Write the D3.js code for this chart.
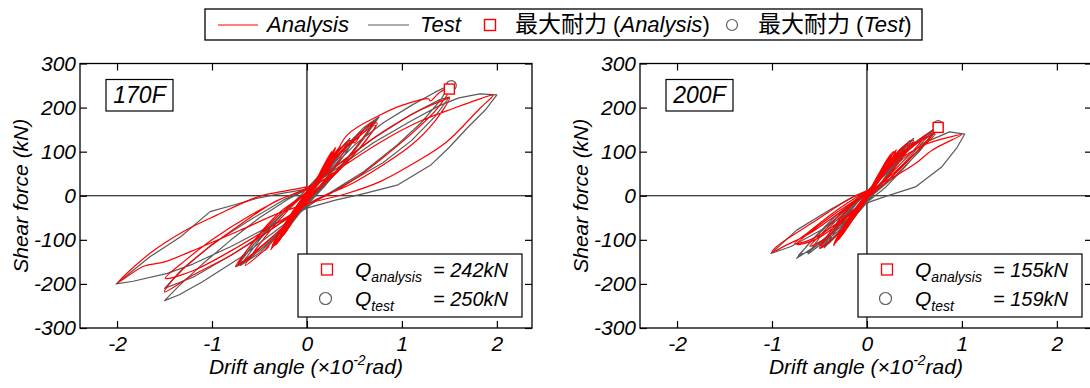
<!DOCTYPE html>
<html>
<head>
<meta charset="utf-8">
<script src="https://cdn.jsdelivr.net/npm/d3@7"></script>
<style>
  body { margin: 0; background: #fff; }
  svg text { font-family: "Liberation Sans", Arial, sans-serif; }
</style>
</head>
<body>
<svg id="chart" width="1090" height="388"></svg>
<script>
const xTicks = [-2, -1, 0, 1, 2]
const yTicks = [-300, -200, -100, 0, 100, 200, 300]
const panelNames = ['170F', '200F']

// drift angle (x10^-2 rad), shear force (kN)
const test170F = [
  [0, 0], [0.05, 20], [0.1, 38], [0.05, 15], [-0.02, -8], [-0.08, -30], [-0.1, -38], [-0.05, -18], [0, -2],
  [0.1, 35], [0.2, 62], [0.25, 75], [0.18, 50], [0.08, 15], [0, -5], [-0.1, -35], [-0.2, -62], [-0.25, -75], [-0.18, -50], [-0.08, -20], [0, 5],
  [0.12, 40], [0.25, 72], [0.15, 38], [0.05, 5], [-0.1, -32], [-0.25, -72], [-0.15, -38], [-0.05, -5],
  [0.05, 12], [0.2, 60], [0.35, 100], [0.45, 122], [0.505, 134], [0.4, 95], [0.28, 58], [0.15, 20], [0.05, -8], [-0.1, -45], [-0.25, -90], [-0.37, -119], [-0.3, -88], [-0.18, -50], [-0.05, -10], [0.05, 15],
  [0.2, 65], [0.4, 110], [0.5, 128], [0.38, 88], [0.2, 38], [0.05, -5], [-0.15, -60], [-0.3, -100], [-0.36, -112], [-0.25, -72], [-0.1, -25], [0.02, 10],
  [0.25, 80], [0.45, 130], [0.35, 95], [0.15, 35], [-0.1, -40], [-0.33, -110], [-0.22, -65], [-0.05, -5], [0.05, 20],
  [0.2, 55], [0.4, 110], [0.6, 155], [0.76, 179], [0.6, 130], [0.4, 75], [0.2, 25], [0.05, -10], [-0.2, -65], [-0.45, -115], [-0.65, -150], [-0.75, -161], [-0.6, -120], [-0.4, -70], [-0.2, -28], [0, 8],
  [0.25, 65], [0.5, 125], [0.72, 168], [0.55, 118], [0.3, 52], [0.1, 5], [-0.2, -62], [-0.5, -125], [-0.72, -155], [-0.55, -108], [-0.3, -50], [-0.05, 5],
  [0.3, 85], [0.55, 140], [0.74, 175], [0.6, 130], [0.35, 65], [0.1, 10], [-0.25, -75], [-0.5, -130], [-0.7, -158], [-0.5, -100], [-0.25, -40], [0, 8],
  [0.2, 50], [0.5, 115], [0.8, 165], [1.1, 205], [1.35, 235], [1.505, 251], [1.4, 215], [1.2, 165], [0.95, 115], [0.6, 55], [0.3, 15], [0.05, -18], [-0.3, -75], [-0.7, -140], [-1.1, -195], [-1.35, -225], [-1.5, -238], [-1.35, -205], [-1.1, -155], [-0.8, -100], [-0.5, -50], [-0.2, -8], [0.05, 20],
  [0.3, 65], [0.7, 130], [1.1, 185], [1.4, 218], [1.5, 224], [1.35, 180], [1.1, 125], [0.8, 75], [0.4, 25], [0.1, -10], [-0.3, -65], [-0.8, -135], [-1.2, -185], [-1.5, -210], [-1.3, -165], [-1.0, -110], [-0.6, -55], [-0.25, -10], [0.05, 22],
  [0.3, 60], [0.7, 120], [1.1, 170], [1.4, 205], [1.6, 222], [1.82, 231], [2.0, 229], [1.88, 195], [1.68, 152], [1.5, 110], [1.3, 69], [0.95, 24], [0.6, 5], [0.3, -10], [0, -28],
  [-0.4, -70], [-0.8, -115], [-1.2, -155], [-1.47, -176], [-1.83, -194], [-2.01, -200], [-1.65, -138], [-1.33, -93], [-1.02, -36], [-0.77, -21], [-0.53, -6], [-0.28, 5], [0, 15]
]
const analysis170F = [
  [0, 0], [0.08, 30], [0.15, 52], [0.1, 30], [0, 2], [-0.08, -28], [-0.15, -50], [-0.1, -28], [0, 0],
  [0.12, 45], [0.22, 80], [0.27, 95], [0.2, 62], [0.08, 20], [-0.05, -18], [-0.15, -52], [-0.28, -95], [-0.2, -60], [-0.08, -20], [0.02, 8],
  [0.15, 55], [0.3, 108], [0.22, 70], [0.1, 28], [-0.1, -38], [-0.3, -105], [-0.22, -70], [-0.1, -30], [0.02, 10],
  [0.15, 50], [0.3, 95], [0.42, 118], [0.35, 85], [0.2, 40], [0.05, 0], [-0.15, -55], [-0.3, -100], [-0.37, -118], [-0.3, -85], [-0.15, -40], [0, 5],
  [0.2, 68], [0.35, 112], [0.28, 80], [0.12, 30], [-0.1, -35], [-0.27, -95], [-0.33, -112], [-0.22, -65], [-0.05, -12], [0.05, 18],
  [0.18, 70], [0.26, 100], [0.24, 88], [0.3, 110], [0.22, 75], [0.1, 30], [-0.08, -30], [-0.25, -90], [-0.3, -95], [-0.38, -122], [-0.28, -80], [-0.1, -20], [0.05, 22],
  [0.25, 75], [0.5, 130], [0.65, 158], [0.74, 165], [0.62, 125], [0.4, 72], [0.2, 30], [0, -10], [-0.25, -70], [-0.5, -120], [-0.68, -152], [-0.75, -160], [-0.6, -115], [-0.35, -55], [-0.1, -8], [0.05, 20],
  [0.3, 85], [0.55, 135], [0.72, 160], [0.58, 115], [0.35, 60], [0.1, 10], [-0.2, -60], [-0.5, -118], [-0.72, -155], [-0.55, -100], [-0.3, -40], [0, 10],
  [0.25, 80], [0.45, 125], [0.5, 120], [0.6, 150], [0.7, 168], [0.55, 120], [0.3, 55], [0.05, 5], [-0.25, -75], [-0.45, -125], [-0.4, -115], [-0.65, -158], [-0.5, -110], [-0.25, -45], [0, 10],
  [0.2, 50], [0.42, 137], [0.77, 183], [1.0, 205], [1.28, 220], [1.3, 215], [1.4, 235], [1.5, 242], [1.38, 200], [1.15, 150], [0.85, 95], [0.55, 45], [0.25, 5], [0, -20], [-0.4, -80], [-0.8, -135], [-1.2, -180], [-1.5, -218], [-1.35, -175], [-1.05, -120], [-0.7, -65], [-0.35, -15], [0, 18],
  [0.35, 75], [0.8, 145], [1.2, 195], [1.45, 218], [1.5, 222], [1.35, 170], [1.1, 115], [0.8, 70], [0.45, 25], [0.1, -8], [-0.3, -60], [-0.8, -125], [-1.2, -170], [-1.49, -187], [-1.3, -150], [-1.0, -100], [-0.6, -45], [-0.25, -5], [0.05, 20],
  [0.4, 70], [0.8, 125], [1.2, 170], [1.54, 198], [1.8, 218], [1.96, 228], [1.82, 198], [1.47, 122], [1.12, 73], [0.77, 32], [0.42, 5], [0.07, -14],
  [-0.3, -40], [-0.7, -78], [-1.1, -115], [-1.5, -150], [-1.72, -160], [-1.99, -197], [-1.65, -130], [-1.3, -81], [-0.95, -44], [-0.51, -2], [-0.2, 12], [0.05, 22]
]
const test200F = [
  [0, 0], [0.05, 20], [0.1, 35], [0.05, 12], [-0.03, -10], [-0.1, -35], [-0.05, -12], [0, 0],
  [0.1, 40], [0.25, 85], [0.18, 55], [0.05, 10], [-0.1, -40], [-0.25, -85], [-0.18, -55], [-0.05, -10], [0.02, 8],
  [0.15, 50], [0.35, 105], [0.49, 130], [0.38, 95], [0.2, 40], [0.05, -3], [-0.2, -65], [-0.4, -108], [-0.49, -119], [-0.38, -85], [-0.2, -35], [0, 5],
  [0.2, 60], [0.4, 110], [0.5, 122], [0.35, 80], [0.15, 25], [-0.05, -15], [-0.25, -75], [-0.45, -112], [-0.35, -80], [-0.15, -25], [0.02, 10],
  [0.2, 65], [0.45, 125], [0.35, 90], [0.15, 30], [-0.15, -50], [-0.45, -118], [-0.3, -70], [-0.1, -15], [0.02, 8],
  [0.25, 70], [0.5, 120], [0.69, 149], [0.76, 160], [0.6, 115], [0.4, 65], [0.2, 20], [0, -15], [-0.3, -70], [-0.55, -115], [-0.74, -142], [-0.6, -105], [-0.35, -50], [-0.1, -5], [0.05, 15],
  [0.3, 75], [0.55, 125], [0.72, 145], [0.55, 100], [0.3, 45], [0.05, 0], [-0.3, -75], [-0.6, -125], [-0.72, -135], [-0.55, -95], [-0.3, -45], [0, 8],
  [0.3, 80], [0.6, 135], [0.7, 150], [0.5, 100], [0.25, 40], [0, -5], [-0.3, -80], [-0.62, -132], [-0.5, -95], [-0.25, -40], [0, 8],
  [0.3, 70], [0.6, 120], [0.87, 145], [1.03, 140], [0.95, 110], [0.79, 66], [0.51, 20], [0.19, -2], [0.03, -14], [-0.2, -40], [-0.5, -80], [-0.8, -115], [-1.01, -131], [-0.74, -78], [-0.39, -32], [-0.14, -2], [0, 10]
]
const analysis200F = [
  [0, 0], [0.08, 30], [0.12, 42], [0.06, 18], [-0.02, -8], [-0.1, -35], [-0.06, -15], [0, 0],
  [0.12, 48], [0.22, 85], [0.28, 100], [0.2, 65], [0.08, 20], [-0.08, -28], [-0.2, -70], [-0.3, -100], [-0.2, -62], [-0.08, -18], [0.02, 10],
  [0.15, 58], [0.31, 104], [0.22, 68], [0.08, 18], [-0.12, -45], [-0.35, -112], [-0.25, -70], [-0.1, -22], [0.03, 12],
  [0.2, 68], [0.4, 115], [0.49, 126], [0.38, 88], [0.2, 40], [0.02, 0], [-0.2, -60], [-0.4, -105], [-0.5, -119], [-0.38, -80], [-0.2, -30], [0, 8],
  [0.25, 80], [0.45, 118], [0.35, 80], [0.15, 30], [-0.05, -15], [-0.3, -85], [-0.48, -115], [-0.35, -72], [-0.15, -20], [0.02, 12],
  [0.15, 55], [0.25, 90], [0.3, 98], [0.28, 85], [0.35, 105], [0.25, 70], [0.1, 25], [-0.1, -38], [-0.3, -95], [-0.35, -113], [-0.25, -75], [-0.1, -25], [0.02, 8],
  [0.25, 72], [0.5, 118], [0.68, 145], [0.75, 155], [0.6, 118], [0.4, 72], [0.2, 30], [0, -5], [-0.3, -60], [-0.6, -100], [-0.76, -108], [-0.6, -80], [-0.35, -38], [-0.1, -2], [0.05, 18],
  [0.3, 80], [0.55, 122], [0.72, 140], [0.55, 105], [0.3, 55], [0.05, 10], [-0.25, -55], [-0.55, -100], [-0.74, -110], [-0.55, -75], [-0.3, -35], [0, 10],
  [0.3, 85], [0.5, 120], [0.45, 110], [0.62, 138], [0.5, 105], [0.25, 50], [0, 0], [-0.3, -70], [-0.5, -112], [-0.45, -100], [-0.6, -115], [-0.45, -80], [-0.2, -25], [0, 10],
  [0.3, 75], [0.6, 115], [0.85, 132], [1.0, 139], [0.69, 104], [0.51, 73], [0.3, 45], [0.15, 28], [0, 5], [-0.3, -40], [-0.6, -85], [-0.85, -112], [-1.0, -128], [-0.95, -115], [-0.53, -55], [-0.21, -10], [0, 12]
]

const testCurves = [test170F, test200F]
const analysisCurves = [analysis170F, analysis200F]
const peakAnalysis = [[1.5, 242], [0.75, 155]]
const peakTest = [[1.52, 250], [0.75, 159]]
const peakAnalysisLabels = ['= 242kN', '= 155kN']
const peakTestLabels = ['= 250kN', '= 159kN']

const red = '#ff0000'
const gray = '#5a5a5a'
const panelLeft = [80, 640]
const plotW = 452
const plotTop = 63.5
const plotBottom = 328

const svg = d3.select('#chart')
const y = d3.scaleLinear().domain([-300, 300]).range([plotBottom, plotTop])

const styleTicks = (sel) => {
  sel.select('.domain').remove()
  sel.selectAll('line').attr('stroke', '#000').attr('stroke-width', 1.2)
  sel.selectAll('text')
    .attr('font-family', '"Liberation Sans", Arial, sans-serif')
    .attr('font-size', 21)
    .attr('font-style', 'italic')
    .attr('fill', '#000')
}

const drawPanel = (i) => {
  const x0 = panelLeft[i]
  const x = d3.scaleLinear().domain([-2.39, 2.37]).range([x0, x0 + plotW])
  const g = svg.append('g')

  // zero lines
  g.append('line')
    .attr('x1', x0).attr('x2', x0 + plotW).attr('y1', y(0)).attr('y2', y(0))
    .attr('stroke', '#000').attr('stroke-width', 1.2)
  g.append('line')
    .attr('x1', x(0)).attr('x2', x(0)).attr('y1', plotTop).attr('y2', plotBottom)
    .attr('stroke', '#000').attr('stroke-width', 1.2)

  // hysteresis curves
  const line = d3.line().x((d) => x(d[0])).y((d) => y(d[1]))
  g.append('path')
    .datum(testCurves[i])
    .attr('d', line)
    .attr('fill', 'none')
    .attr('stroke', gray)
    .attr('stroke-width', 1.2)
    .attr('stroke-linejoin', 'round')
  g.append('path')
    .datum(analysisCurves[i])
    .attr('d', line.curve(d3.curveCatmullRom.alpha(0.5)))
    .attr('fill', 'none')
    .attr('stroke', red)
    .attr('stroke-width', 1.2)
    .attr('stroke-linejoin', 'round')

  // peak markers
  g.append('circle')
    .attr('cx', x(peakTest[i][0])).attr('cy', y(peakTest[i][1])).attr('r', 5)
    .attr('fill', '#fff').attr('stroke', gray).attr('stroke-width', 1.2)
  g.append('rect')
    .attr('x', x(peakAnalysis[i][0]) - 5).attr('y', y(peakAnalysis[i][1]) - 5)
    .attr('width', 10).attr('height', 10)
    .attr('fill', '#fff').attr('stroke', red).attr('stroke-width', 1.4)

  // axes with inward ticks
  g.append('g')
    .attr('transform', `translate(0,${plotBottom})`)
    .call(d3.axisBottom(x).tickValues(xTicks).tickSizeInner(-7).tickSizeOuter(0).tickPadding(8).tickFormat((d) => String(d)))
    .call(styleTicks)
  g.append('g')
    .attr('transform', `translate(0,${plotTop})`)
    .call(d3.axisTop(x).tickValues(xTicks).tickSizeInner(-7).tickSizeOuter(0).tickFormat(() => ''))
    .call(styleTicks)
  g.append('g')
    .attr('transform', `translate(${x0},0)`)
    .call(d3.axisLeft(y).tickValues(yTicks).tickSizeInner(-7).tickSizeOuter(0).tickPadding(4).tickFormat((d) => String(d)))
    .call(styleTicks)
  g.append('g')
    .attr('transform', `translate(${x0 + plotW},0)`)
    .call(d3.axisRight(y).tickValues(yTicks).tickSizeInner(-7).tickSizeOuter(0).tickFormat(() => ''))
    .call(styleTicks)

  // frame
  g.append('rect')
    .attr('x', x0).attr('y', plotTop).attr('width', plotW).attr('height', plotBottom - plotTop)
    .attr('fill', 'none').attr('stroke', '#000').attr('stroke-width', 1.3)

  // specimen label
  g.append('rect')
    .attr('x', x0 + 26).attr('y', 79.5).attr('width', 67).attr('height', 31.5)
    .attr('fill', '#fff').attr('stroke', '#000').attr('stroke-width', 1.2)
  g.append('text')
    .attr('x', x0 + 59.5).attr('y', 103)
    .attr('text-anchor', 'middle')
    .attr('font-size', 23).attr('font-style', 'italic')
    .text(panelNames[i])

  // peak legend
  const lg = g.append('g')
  lg.append('rect')
    .attr('x', x0 + 218).attr('y', 254).attr('width', 224).attr('height', 63)
    .attr('fill', '#fff').attr('stroke', '#000').attr('stroke-width', 1.2)
  lg.append('rect')
    .attr('x', x0 + 241.5).attr('y', 264).attr('width', 11).attr('height', 11)
    .attr('fill', '#fff').attr('stroke', red).attr('stroke-width', 1.3)
  lg.append('circle')
    .attr('cx', x0 + 245.5).attr('cy', 298.5).attr('r', 6)
    .attr('fill', '#fff').attr('stroke', gray).attr('stroke-width', 1.2)
  const rows = [['analysis', peakAnalysisLabels[i], 277], ['test', peakTestLabels[i], 306]]
  rows.forEach(([sub, val, base]) => {
    const t = lg.append('text').attr('x', x0 + 275).attr('y', base).attr('font-size', 21).attr('font-style', 'italic')
    t.append('tspan').text('Q')
    t.append('tspan').attr('font-size', 14).attr('dy', 5).text(sub)
    lg.append('text').attr('x', x0 + 353).attr('y', base).attr('font-size', 20).attr('font-style', 'italic').text(val)
  })

  // axis titles
  g.append('text')
    .attr('transform', `translate(${x0 - 52},${y(0)}) rotate(-90)`)
    .attr('text-anchor', 'middle')
    .attr('font-size', 21).attr('font-style', 'italic')
    .text('Shear force (kN)')
  const xt = g.append('text')
    .attr('x', x(0) - 1).attr('y', 374)
    .attr('text-anchor', 'middle')
    .attr('font-size', 21).attr('font-style', 'italic')
  xt.append('tspan').text('Drift angle (×10')
  xt.append('tspan').attr('font-size', 14).attr('dy', -9).text('-2')
  xt.append('tspan').attr('dy', 9).text('rad)')
}

panelNames.forEach((_, i) => drawPanel(i))

// top legend
const legend = svg.append('g')
legend.append('rect')
  .attr('x', 205).attr('y', 9).attr('width', 717).attr('height', 31)
  .attr('fill', '#fff').attr('stroke', '#000').attr('stroke-width', 1.3)
legend.append('line').attr('x1', 218).attr('x2', 258).attr('y1', 25).attr('y2', 25).attr('stroke', red).attr('stroke-width', 1.2)
legend.append('text').attr('x', 267).attr('y', 32).attr('font-size', 22).attr('font-style', 'italic').text('Analysis')
legend.append('line').attr('x1', 368).attr('x2', 409).attr('y1', 25).attr('y2', 25).attr('stroke', gray).attr('stroke-width', 1.2)
legend.append('text').attr('x', 420).attr('y', 32).attr('font-size', 22).attr('font-style', 'italic').text('Test')
legend.append('rect').attr('x', 484.5).attr('y', 19.5).attr('width', 11).attr('height', 11).attr('fill', '#fff').attr('stroke', red).attr('stroke-width', 1.4)
legend.append('circle').attr('cx', 732).attr('cy', 25).attr('r', 5.5).attr('fill', '#fff').attr('stroke', gray).attr('stroke-width', 1.2)

const legendPeaks = [['Analysis', 515], ['Test', 758]]
legendPeaks.forEach(([name, lx]) => {
  const t = legend.append('text').attr('x', lx).attr('y', 32).attr('font-size', 22)
  t.append('tspan').attr('font-family', '"Noto Sans CJK JP", sans-serif').attr('font-size', 23).text('最大耐力')
  t.append('tspan').text(' (')
  t.append('tspan').attr('font-style', 'italic').text(name)
  t.append('tspan').text(')')
})
</script>
</body>
</html>
